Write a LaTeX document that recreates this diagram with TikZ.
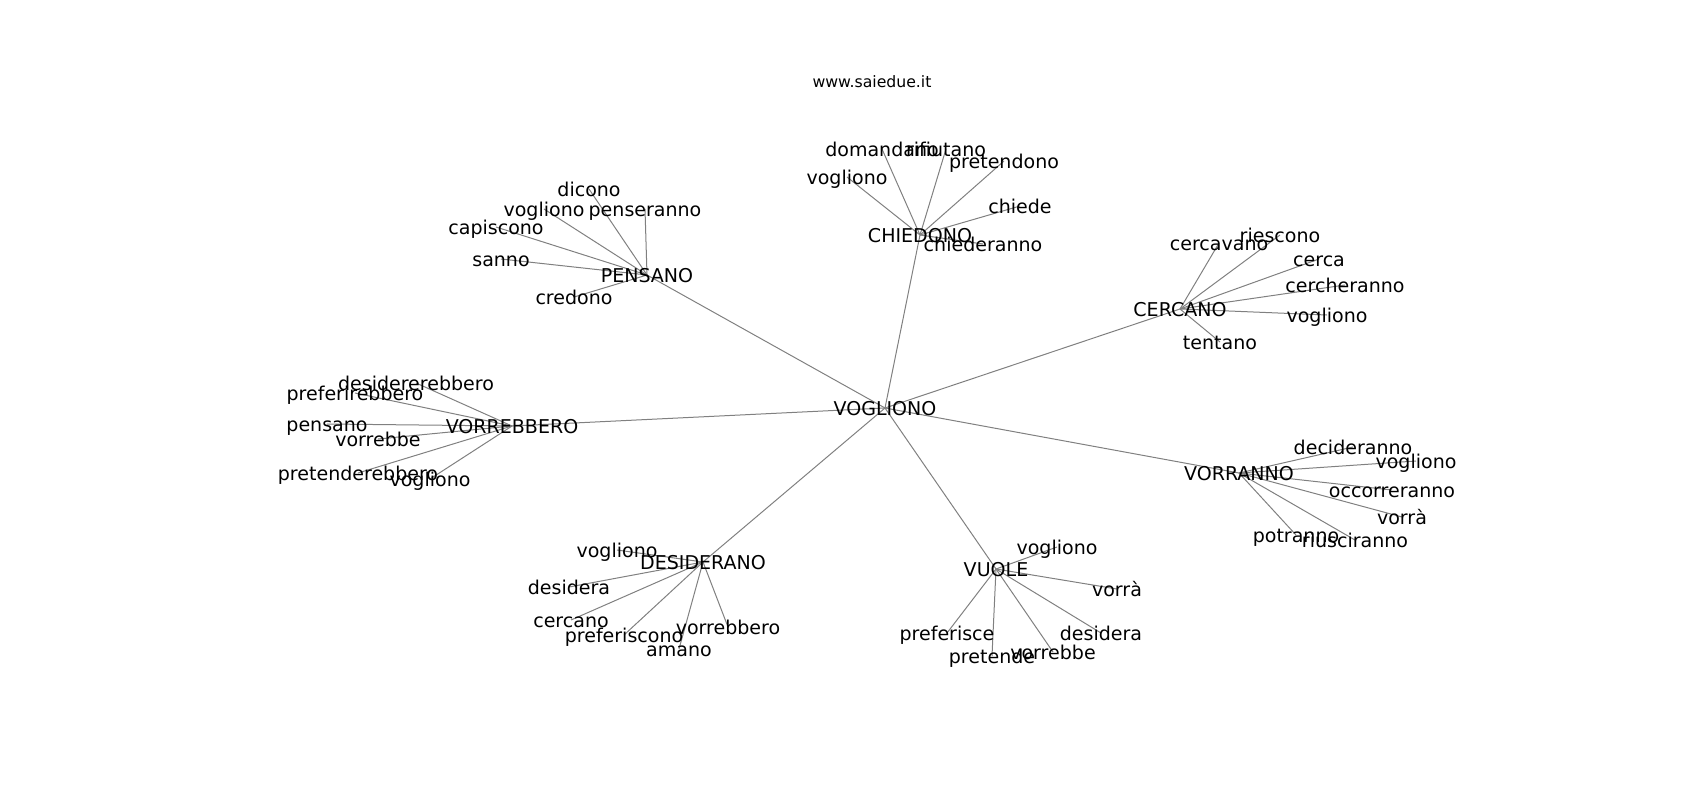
\documentclass[tikz,border=0pt]{standalone}
\usepackage{fontspec}
\setmainfont{DejaVu Sans}
\usetikzlibrary{backgrounds}

\begin{document}
\begin{tikzpicture}[
    x=0.72pt, y=-0.72pt,
    % --- 样式 ---
    word/.style={inner sep=0pt, font=\fontsize{13.7}{16}\selectfont,
                 text height=13.6pt, text depth=2.9pt},
    hub/.style={word},
    heading/.style={inner sep=0pt, font=\fontsize{11.3}{14}\selectfont,
                    text height=10pt, text depth=2.4pt},
    edge/.style={draw, gray, line width=0.72pt}
  ]
  \useasboundingbox (0,0) rectangle (1700,800);

  \node[heading] (site) at (872,82) {www.saiedue.it};

  % --- 中心与分支节点 ---
  \node[hub] (vogl) at (885,408) {VOGLIONO};
  \node[hub] (pens) at (647,275) {PENSANO};
  \node[hub] (chie) at (920,235) {CHIEDONO};
  \node[hub] (cerc) at (1180,309) {CERCANO};
  \node[hub] (vorb) at (512,426) {VORREBBERO};
  \node[hub] (vorr) at (1239,473) {VORRANNO};
  \node[hub] (desi) at (703,562) {DESIDERANO};
  \node[hub] (vuol) at (996,569) {VUOLE};

  % PENSANO
  \node[word] (pens-dicono) at (589,189) {dicono};
  \node[word] (pens-vogliono) at (544,209) {vogliono};
  \node[word] (pens-penseranno) at (645,209) {penseranno};
  \node[word] (pens-capiscono) at (496,227) {capiscono};
  \node[word] (pens-sanno) at (501,259) {sanno};
  \node[word] (pens-credono) at (574,297) {credono};

  % CHIEDONO
  \node[word] (chie-domandano) at (882,149) {domandano};
  \node[word] (chie-rifiutano) at (946,149) {rifiutano};
  \node[word] (chie-pretendono) at (1004,161) {pretendono};
  \node[word] (chie-vogliono) at (847,177) {vogliono};
  \node[word] (chie-chiede) at (1020,206) {chiede};
  \node[word] (chie-chiederanno) at (983,244) {chiederanno};

  % CERCANO
  \node[word] (cerc-cercavano) at (1219,243) {cercavano};
  \node[word] (cerc-riescono) at (1280,235) {riescono};
  \node[word] (cerc-cerca) at (1319,259) {cerca};
  \node[word] (cerc-cercheranno) at (1345,285) {cercheranno};
  \node[word] (cerc-vogliono) at (1327,315) {vogliono};
  \node[word] (cerc-tentano) at (1220,342) {tentano};

  % VORREBBERO
  \node[word] (vorb-desidererebbero) at (416,383) {desidererebbero};
  \node[word] (vorb-preferirebbero) at (355,393) {preferirebbero};
  \node[word] (vorb-pensano) at (327,424) {pensano};
  \node[word] (vorb-vorrebbe) at (378,439) {vorrebbe};
  \node[word] (vorb-pretenderebbero) at (358,473) {pretenderebbero};
  \node[word] (vorb-vogliono) at (430,479) {vogliono};

  % VORRANNO
  \node[word] (vorr-decideranno) at (1353,447) {decideranno};
  \node[word] (vorr-vogliono) at (1416,461) {vogliono};
  \node[word] (vorr-occorreranno) at (1392,490) {occorreranno};
  \node[word] (vorr-vorra) at (1402,517) {vorrà};
  \node[word] (vorr-potranno) at (1296,535) {potranno};
  \node[word] (vorr-riusciranno) at (1355,540) {riusciranno};

  % DESIDERANO
  \node[word] (desi-vogliono) at (617,550) {vogliono};
  \node[word] (desi-desidera) at (569,587) {desidera};
  \node[word] (desi-cercano) at (571,620) {cercano};
  \node[word] (desi-preferiscono) at (624,635) {preferiscono};
  \node[word] (desi-vorrebbero) at (728,627) {vorrebbero};
  \node[word] (desi-amano) at (679,649) {amano};

  % VUOLE
  \node[word] (vuol-vogliono) at (1057,547) {vogliono};
  \node[word] (vuol-vorra) at (1117,589) {vorrà};
  \node[word] (vuol-preferisce) at (947,633) {preferisce};
  \node[word] (vuol-desidera) at (1101,633) {desidera};
  \node[word] (vuol-pretende) at (992,656) {pretende};
  \node[word] (vuol-vorrebbe) at (1053,652) {vorrebbe};

  % --- 边 ---
  \begin{scope}[on background layer]
    \path[edge] (vogl.center) -- (pens.center);
    \path[edge] (vogl.center) -- (chie.center);
    \path[edge] (vogl.center) -- (cerc.center);
    \path[edge] (vogl.center) -- (vorb.center);
    \path[edge] (vogl.center) -- (vorr.center);
    \path[edge] (vogl.center) -- (desi.center);
    \path[edge] (vogl.center) -- (vuol.center);

    \path[edge] (pens.center) -- (pens-dicono.center);
    \path[edge] (pens.center) -- (pens-vogliono.center);
    \path[edge] (pens.center) -- (pens-penseranno.center);
    \path[edge] (pens.center) -- (pens-capiscono.center);
    \path[edge] (pens.center) -- (pens-sanno.center);
    \path[edge] (pens.center) -- (pens-credono.center);

    \path[edge] (chie.center) -- (chie-domandano.center);
    \path[edge] (chie.center) -- (chie-rifiutano.center);
    \path[edge] (chie.center) -- (chie-pretendono.center);
    \path[edge] (chie.center) -- (chie-vogliono.center);
    \path[edge] (chie.center) -- (chie-chiede.center);
    \path[edge] (chie.center) -- (chie-chiederanno.center);

    \path[edge] (cerc.center) -- (cerc-cercavano.center);
    \path[edge] (cerc.center) -- (cerc-riescono.center);
    \path[edge] (cerc.center) -- (cerc-cerca.center);
    \path[edge] (cerc.center) -- (cerc-cercheranno.center);
    \path[edge] (cerc.center) -- (cerc-vogliono.center);
    \path[edge] (cerc.center) -- (cerc-tentano.center);

    \path[edge] (vorb.center) -- (vorb-desidererebbero.center);
    \path[edge] (vorb.center) -- (vorb-preferirebbero.center);
    \path[edge] (vorb.center) -- (vorb-pensano.center);
    \path[edge] (vorb.center) -- (vorb-vorrebbe.center);
    \path[edge] (vorb.center) -- (vorb-pretenderebbero.center);
    \path[edge] (vorb.center) -- (vorb-vogliono.center);

    \path[edge] (vorr.center) -- (vorr-decideranno.center);
    \path[edge] (vorr.center) -- (vorr-vogliono.center);
    \path[edge] (vorr.center) -- (vorr-occorreranno.center);
    \path[edge] (vorr.center) -- (vorr-vorra.center);
    \path[edge] (vorr.center) -- (vorr-potranno.center);
    \path[edge] (vorr.center) -- (vorr-riusciranno.center);

    \path[edge] (desi.center) -- (desi-vogliono.center);
    \path[edge] (desi.center) -- (desi-desidera.center);
    \path[edge] (desi.center) -- (desi-cercano.center);
    \path[edge] (desi.center) -- (desi-preferiscono.center);
    \path[edge] (desi.center) -- (desi-vorrebbero.center);
    \path[edge] (desi.center) -- (desi-amano.center);

    \path[edge] (vuol.center) -- (vuol-vogliono.center);
    \path[edge] (vuol.center) -- (vuol-vorra.center);
    \path[edge] (vuol.center) -- (vuol-preferisce.center);
    \path[edge] (vuol.center) -- (vuol-desidera.center);
    \path[edge] (vuol.center) -- (vuol-pretende.center);
    \path[edge] (vuol.center) -- (vuol-vorrebbe.center);
  \end{scope}

\end{tikzpicture}
\end{document}
